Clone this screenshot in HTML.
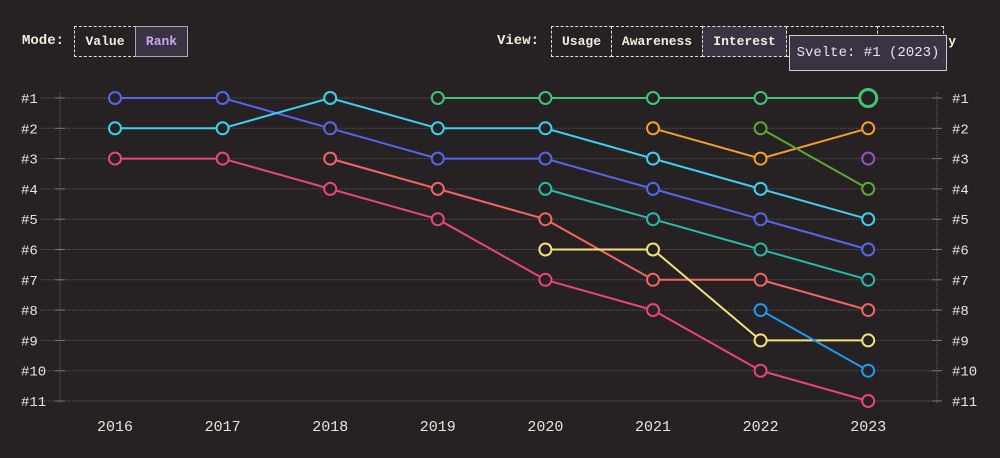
<!DOCTYPE html>
<html><head><meta charset="utf-8"><style>
body{margin:0;background:#262223;width:1000px;height:458px;overflow:hidden;font-family:"Liberation Mono",monospace;color:#eee;position:relative}
.lbl{position:absolute;top:33px;font-weight:bold;font-size:14px;color:#f2ede0}
.btn{position:absolute;top:26px;height:31px;box-sizing:border-box;border:1px dashed #ddd;font-weight:bold;font-size:13px;line-height:29px;text-align:center;color:#f2ede0}
.act{background:#3a3344;border-style:solid;border-color:#aaa}
.tip{position:absolute;left:789px;top:35px;width:158px;height:36px;box-sizing:border-box;background:#3a3344;border:1px solid #ccc;font-size:14px;line-height:34px;text-align:center;color:#e8e4ea}
</style></head><body>
<div class="lbl" style="left:22px">Mode:</div>
<div class="btn" style="left:74px;width:62px">Value</div>
<div class="btn act" style="left:135px;width:53px;color:#c9a8f0">Rank</div>
<div class="lbl" style="left:497px">View:</div>
<div class="btn" style="left:551px;width:61px">Usage</div>
<div class="btn" style="left:611px;width:92px">Awareness</div>
<div class="btn act" style="left:702px;width:85px;border-style:dashed;border-color:#ddd">Interest</div>
<div class="btn" style="left:786px;width:92px">Retention</div>
<div class="btn" style="left:877px;width:67px">Positivity</div>
<div class="tip">Svelte: #1 (2023)</div>
<svg width="1000" height="458" style="position:absolute;left:0;top:0" id="s"></svg>
<script>
var s=document.getElementById('s'),h='';
function X(i){return 115+107.6*i}function Y(r){return 98+30.3*(r-1)}
h+='<line x1="60" y1="92" x2="60" y2="404" stroke="#666" stroke-dasharray="1,1"/><line x1="937" y1="92" x2="937" y2="404" stroke="#666" stroke-dasharray="1,1"/>';
for(var r=1;r<=11;r++){var y=Y(r);h+='<line x1="40" y1="'+y+'" x2="937" y2="'+y+'" stroke="#5a5656" stroke-dasharray="1,1"/><line x1="55" y1="'+y+'" x2="65" y2="'+y+'" stroke="#777"/><line x1="932" y1="'+y+'" x2="942" y2="'+y+'" stroke="#777"/>';
h+='<text x="21" y="'+(y+5)+'" fill="#e8e4dc" font-size="14" font-family="Liberation Mono">#'+r+'</text><text x="952" y="'+(y+5)+'" fill="#e8e4dc" font-size="14" font-family="Liberation Mono">#'+r+'</text>';}
for(var i=0;i<8;i++)h+='<text x="'+X(i)+'" y="431" text-anchor="middle" fill="#e8e4dc" font-size="15" font-family="Liberation Mono">'+(2016+i)+'</text>';
var S=[["#5566e8",0,[1,1,2,3,3,4,5,6]],["#3dd0ee",0,[2,2,1,2,2,3,4,5]],["#e8457a",0,[3,3,4,5,7,8,10,11]],["#f26464",2,[3,4,5,7,7,8]],["#3ec474",3,[1,1,1,1,1]],["#f0a028",5,[2,3,2]],["#5ea832",6,[2,4]],["#9b4fc4",7,[3]],["#2ab8a8",4,[4,5,6,7]],["#f2e07a",4,[6,6,9,9]],["#1e9af0",6,[8,10]]];
S.forEach(function(d){var p=d[2].map(function(r,k){return X(d[1]+k)+','+Y(r)}).join(' ');
h+='<polyline points="'+p+'" fill="none" stroke="'+d[0]+'" stroke-width="2"/>';
d[2].forEach(function(r,k){var big=d[0]=="#3ec474"&&k==4;h+='<circle cx="'+X(d[1]+k)+'" cy="'+Y(r)+'" r="'+(big?8.5:6)+'" fill="#262223" stroke="'+d[0]+'" stroke-width="'+(big?3:2)+'"/>'});});
s.innerHTML=h;
</script>
</body></html>
